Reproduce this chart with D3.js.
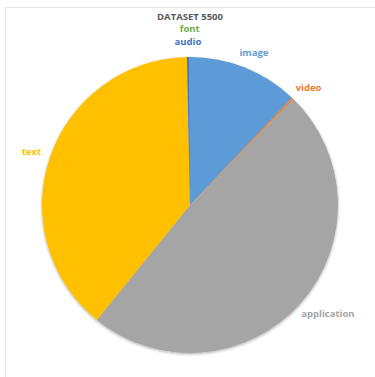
<!DOCTYPE html>
<html>
<head>
<meta charset="utf-8">
<script src="https://cdn.jsdelivr.net/npm/d3@7"></script>
<style>
  html, body { margin: 0; padding: 0; background: #fff; }
  svg { display: block; font-family: "Open Sans", "Liberation Sans", sans-serif; }
</style>
</head>
<body>
<div id="chart"></div>
<script>
const title = "DATASET 5500";
const categories = ["image", "video", "application", "text", "audio", "font"];
const values = [665, 12, 2670, 2135, 15, 3];
const colors = ["#5B9BD5", "#ED7D31", "#A5A5A5", "#FFC000", "#4472C4", "#70AD47"];

const width = 375;
const height = 377;
const cx = 190;
const cy = 205;
const radius = 148;
const labelGap = 10;

const svg = d3.select("#chart").append("svg")
  .attr("width", width)
  .attr("height", height);

const defs = svg.append("defs");
const shadow = defs.append("filter").attr("id", "soft")
  .attr("x", "-10%").attr("y", "-10%").attr("width", "120%").attr("height", "120%");
shadow.append("feGaussianBlur").attr("in", "SourceAlpha").attr("stdDeviation", 1.6).attr("result", "b");
shadow.append("feOffset").attr("in", "b").attr("dy", 1).attr("result", "o");
shadow.append("feComponentTransfer").attr("in", "o").attr("result", "s")
  .append("feFuncA").attr("type", "linear").attr("slope", 0.35);
const merge = shadow.append("feMerge");
merge.append("feMergeNode").attr("in", "s");
merge.append("feMergeNode").attr("in", "SourceGraphic");

// frame
svg.append("rect")
  .attr("x", 5.5).attr("y", 7.5)
  .attr("width", width).attr("height", height)
  .attr("fill", "none")
  .attr("stroke", "#e3e3e3");

svg.append("text")
  .attr("x", cx).attr("y", 20)
  .attr("text-anchor", "middle")
  .attr("font-size", 9.5)
  .attr("font-weight", "bold")
  .attr("fill", "#595959")
  .text(title);

const data = categories.map((c, i) => ({ name: c, value: values[i], color: colors[i] }));

const pie = d3.pie().sort(null).value((d) => d.value);
const arcs = pie(data);
const arc = d3.arc().innerRadius(0).outerRadius(radius);

const g = svg.append("g").attr("transform", `translate(${cx},${cy})`);

g.append("g").attr("filter", "url(#soft)")
  .selectAll("path")
  .data(arcs)
  .join("path")
  .attr("d", arc)
  .attr("fill", (d) => d.data.color);

// labels at outside end
const fontSize = 9.5;
const labels = g.append("g")
  .selectAll("text")
  .data(arcs)
  .join("text")
  .attr("font-size", fontSize)
  .attr("font-weight", "bold")
  .attr("fill", (d) => d.data.color)
  .attr("text-anchor", "middle")
  .text((d) => d.data.name);

const placed = [];
labels.each(function (d) {
  const w = this.getComputedTextLength();
  const h = 11;
  const a = (d.startAngle + d.endAngle) / 2;
  const s = Math.sin(a), c = -Math.cos(a);
  let x = (radius + labelGap) * s + (w / 2) * s;
  let y = (radius + labelGap) * c + (h / 2) * c;
  // avoid overlap with earlier labels
  let moved = true;
  while (moved) {
    moved = false;
    for (const p of placed) {
      if (Math.abs(p.x - x) < (p.w + w) / 2 && Math.abs(p.y - y) < 13) {
        y = p.y - 13;
        moved = true;
      }
    }
  }
  placed.push({ x, y, w });
  d3.select(this).attr("x", x).attr("y", y + fontSize * 0.35);
});
</script>
</body>
</html>
